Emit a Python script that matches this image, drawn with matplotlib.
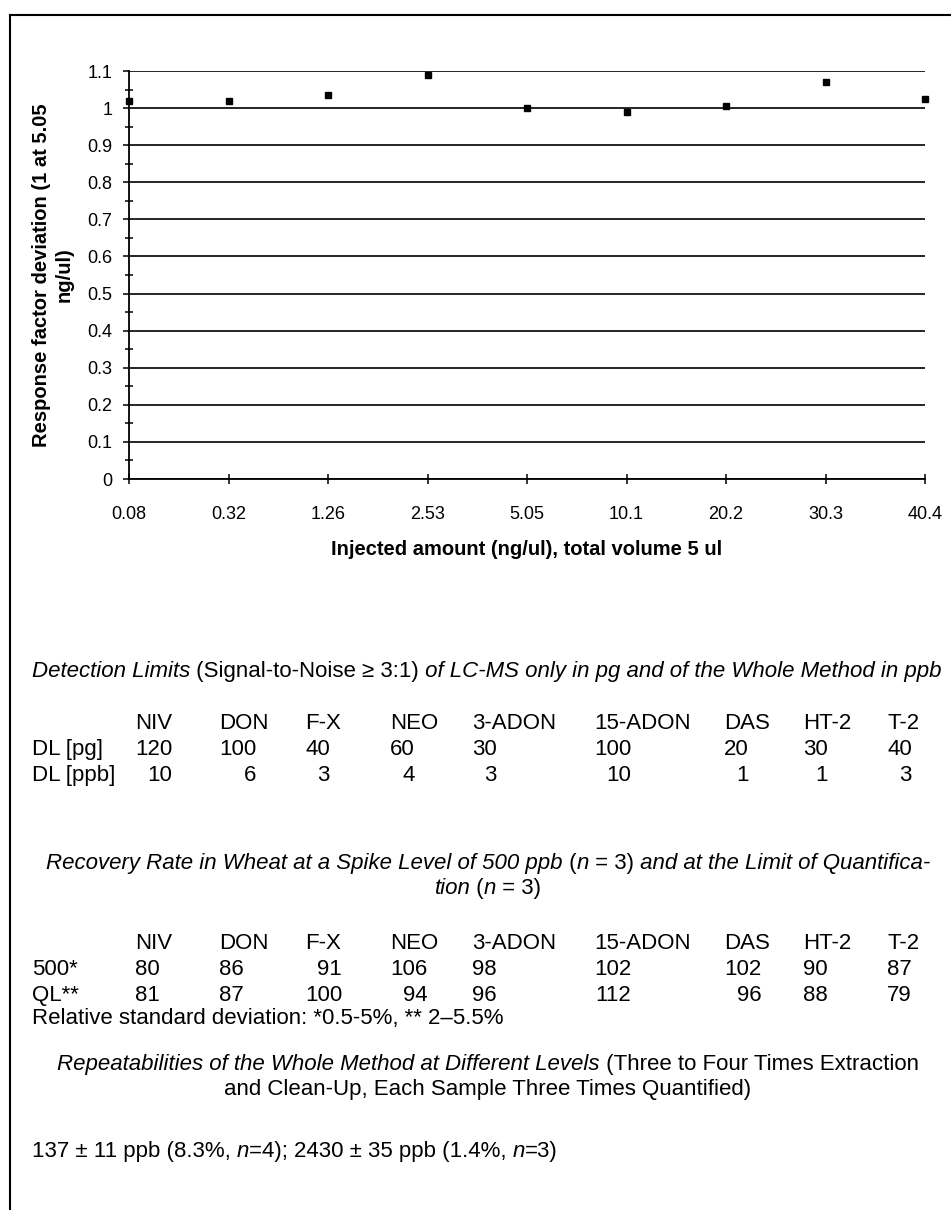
import matplotlib
matplotlib.use('Agg')
import matplotlib.pyplot as plt
from matplotlib.lines import Line2D
from matplotlib.ticker import MultipleLocator, FuncFormatter
from matplotlib.transforms import IdentityTransform

plt.rcParams['font.family'] = ['Liberation Sans', 'DejaVu Sans']

# chart data
amounts = ['0.08', '0.32', '1.26', '2.53', '5.05', '10.1', '20.2', '30.3', '40.4']
rf_dev = [1.02, 1.02, 1.035, 1.09, 1.0, 0.99, 1.005, 1.07, 1.025]

# tables
toxins = ['NIV', 'DON', 'F-X', 'NEO', '3-ADON', '15-ADON', 'DAS', 'HT-2', 'T-2']
dl_pg = [120, 100, 40, 60, 30, 100, 20, 30, 40]
dl_ppb = [10, 6, 3, 4, 3, 10, 1, 1, 3]
rec_500 = [80, 86, 91, 106, 98, 102, 102, 90, 87]
rec_ql = [81, 87, 100, 94, 96, 112, 96, 88, 79]

W, H = 951, 1210
BODY = 16

fig = plt.figure(figsize=(W / 100, H / 100), dpi=100)
ax = fig.add_axes([129 / W, 1 - 479 / H, (925 - 129) / W, (479 - 71) / H])

ax.plot(range(len(amounts)), rf_dev, 's', color='black', markersize=5,
        clip_on=False, zorder=3)
ax.set_xlim(0, len(amounts) - 1)
ax.set_ylim(0, 1.1)
ax.set_xticks(range(len(amounts)))
ax.set_xticklabels(amounts)
ax.set_yticks([i / 10 for i in range(12)])
ax.yaxis.set_major_formatter(FuncFormatter(lambda v, p: '%g' % round(v, 2)))
ax.yaxis.set_minor_locator(MultipleLocator(0.05))
ax.grid(axis='y', color='black', linewidth=1.2)
for s in ['top', 'right']:
    ax.spines[s].set_visible(False)
for s in ['left', 'bottom']:
    ax.spines[s].set_linewidth(1.3)
ax.tick_params(axis='y', which='major', direction='out', length=4, width=1.1,
               labelsize=13, pad=8)
ax.tick_params(axis='y', which='minor', direction='inout', length=6, width=1.1)
ax.tick_params(axis='x', direction='inout', length=7, width=1.1,
               labelsize=13, pad=16)
ax.set_xlabel('Injected amount (ng/ul), total volume 5 ul', fontweight='bold',
              fontsize=14.5, labelpad=12)
ax.set_ylabel('Response factor deviation (1 at 5.05\nng/ul)', fontweight='bold',
              fontsize=14.5, labelpad=10, linespacing=1.25)

# frame of the page
fig.add_artist(Line2D([10 / W, 1], [1 - 15 / H] * 2, color='black', lw=1.5,
                      transform=fig.transFigure))
fig.add_artist(Line2D([10 / W] * 2, [1 - 15 / H, 0], color='black', lw=1.5,
                      transform=fig.transFigure))

renderer = fig.canvas.get_renderer()


def put(x, y, s, **kw):
    return fig.text(x, H - y, s, transform=IdentityTransform(), va='baseline',
                    fontsize=BODY, **kw)


def measure_width(s):
    t = put(0, 0, s)
    w = t.get_window_extent(renderer).width
    t.remove()
    return w


def line(segs, y, x=None, center=None):
    texts = [put(0, y, s, fontstyle=st) for s, st in segs]
    widths = [t.get_window_extent(renderer).width for t in texts]
    start = x if x is not None else center - sum(widths) / 2
    for t, w in zip(texts, widths):
        t.set_x(start)
        start += w


col_x = [135, 219, 305, 390, 472, 594, 724, 803, 887]
LEFT = 32
CENTER = 488


def table(y0, rows):
    for cx, name in zip(col_x, toxins):
        put(cx, y0, name)
    for i, (label, vals) in enumerate(rows):
        y = y0 + 26 * (i + 1)
        put(LEFT, y, label)
        for j, v in enumerate(vals):
            # numbers are right-aligned on the widest entry of the column
            widest = max([str(r[1][j]) for r in rows], key=len)
            put(col_x[j] + measure_width(widest), y, str(v), ha='right')


line([('Detection Limits', 'italic'), (' (Signal-to-Noise \u2265 3:1)', 'normal'),
      (' of LC-MS only in pg and of the Whole Method in ppb', 'italic')],
     677, x=LEFT)
table(729, [('DL [pg]', dl_pg), ('DL [ppb]', dl_ppb)])

line([('Recovery Rate in Wheat at a Spike Level of 500 ppb', 'italic'),
      (' (', 'normal'), ('n', 'italic'), (' = 3)', 'normal'),
      (' and at the Limit of Quantifica-', 'italic')], 869, center=CENTER)
line([('tion', 'italic'), (' (', 'normal'), ('n', 'italic'), (' = 3)', 'normal')],
     894, center=CENTER)
table(949, [('500*', rec_500), ('QL**', rec_ql)])
put(LEFT, 1024, 'Relative standard deviation: *0.5-5%, ** 2\u20135.5%')

line([('Repeatabilities of the Whole Method at Different Levels', 'italic'),
      (' (Three to Four Times Extraction', 'normal')], 1070, center=CENTER)
line([('and Clean-Up, Each Sample Three Times Quantified)', 'normal')],
     1095, center=CENTER)
line([('137 \u00b1 11 ppb (8.3%, ', 'normal'), ('n', 'italic'),
      ('=4); 2430 \u00b1 35 ppb (1.4%, ', 'normal'), ('n', 'italic'),
      ('=3)', 'normal')], 1157, x=LEFT)

fig.savefig('out.png', dpi=100)
